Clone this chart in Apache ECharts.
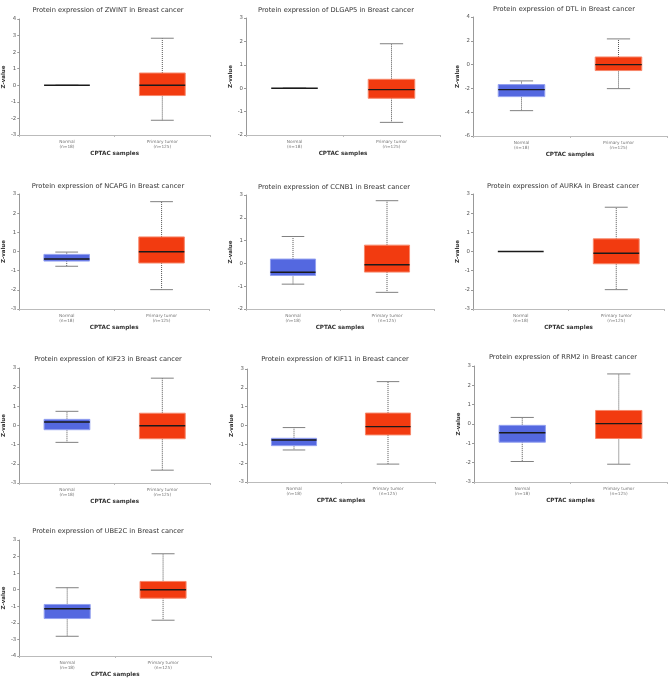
<!DOCTYPE html>
<html>
<head>
<meta charset="utf-8">
<script src="https://cdn.jsdelivr.net/npm/echarts@6/dist/echarts.min.js"></script>
<style>
html,body{margin:0;padding:0;background:#fff;}
#main{width:669px;height:679px;}
</style>
</head>
<body>
<div id="main"></div>
<script>
// ---- data ----
const genes = ['ZWINT','DLGAP5','DTL','NCAPG','CCNB1','AURKA','KIF23','KIF11','RRM2','UBE2C'];
const categories = ['Normal\n(n=18)', 'Primary tumor\n(n=125)'];
// five-number summaries: [lower whisker, Q1, median, Q3, upper whisker]
const normalStats = [
  [0, 0, 0, 0, 0],
  [0, 0, 0, 0, 0],
  [-3.87, -2.69, -2.10, -1.68, -1.37],
  [-0.77, -0.50, -0.39, -0.15, -0.03],
  [-0.91, -0.53, -0.39, 0.19, 1.18],
  [0, 0, 0, 0, 0],
  [-0.88, -0.22, 0.18, 0.32, 0.74],
  [-1.30, -1.07, -0.77, -0.68, -0.11],
  [-1.94, -0.94, -0.45, -0.07, 0.34],
  [-2.81, -1.74, -1.15, -0.89, 0.12]
];
const tumorStats = [
  [-2.11, -0.62, 0.00, 0.74, 2.84],
  [-1.46, -0.43, -0.06, 0.38, 1.90],
  [-2.02, -0.50, 0.00, 0.64, 2.16],
  [-1.99, -0.60, -0.01, 0.76, 2.60],
  [-1.27, -0.38, -0.06, 0.80, 2.75],
  [-1.99, -0.64, -0.09, 0.66, 2.31],
  [-2.33, -0.69, -0.01, 0.64, 2.47],
  [-2.05, -0.50, -0.06, 0.66, 2.33],
  [-2.08, -0.75, 0.02, 0.70, 2.59],
  [-1.84, -0.51, 0.00, 0.50, 2.17]
];
const yMin = [-3, -2, -6, -3, -2, -3, -3, -3, -3, -4];
const yMax = [4, 3, 4, 3, 3, 3, 3, 3, 3, 3];
const yStep = [1, 1, 2, 1, 1, 1, 1, 1, 1, 1];

// ---- layout (pixels) ----
const plots = [
  {l:19,  r:210, t:19,  b:135},
  {l:246, r:440, t:18,  b:135},
  {l:473, r:667, t:17,  b:136},
  {l:18,  r:209, t:194, b:309},
  {l:246, r:434, t:195, b:309},
  {l:473, r:664, t:194, b:309},
  {l:18,  r:210, t:368, b:483},
  {l:247, r:435, t:369, b:482},
  {l:474, r:667, t:366, b:482},
  {l:18,  r:211, t:540, b:656}
];
const titlePos = [
  [103,2],[331,2],[559,1],[103,178],[329,179],[558,178],[103,351],[330,351],[558,349],[103,523]
];

const FONT = 'DejaVu Sans';
const chart = echarts.init(document.getElementById('main'), null, {renderer:'canvas'});

const grids = [], xAxes = [], yAxes = [], series = [], titles = [];
const fills = ['#5468e0', '#f23b10'];
const borders = ['#93a0f0', '#f7876a'];

function renderBox(params, api) {
  const cat = api.value(0);
  const lo = api.value(1), q1 = api.value(2), md = api.value(3), q3 = api.value(4), hi = api.value(5);
  const bw = api.size([1, 0])[0] * 0.48;
  const cw = bw * 0.5;
  const pLo = api.coord([cat, lo]), pQ1 = api.coord([cat, q1]), pMd = api.coord([cat, md]);
  const pQ3 = api.coord([cat, q3]), pHi = api.coord([cat, hi]);
  const x = pMd[0];
  const ci = cat;
  const children = [
    {type:'line', shape:{x1:x, y1:pQ3[1], x2:x, y2:pHi[1]}, style:{stroke:'#555', lineWidth:1, lineDash:[1,1]}},
    {type:'line', shape:{x1:x, y1:pQ1[1], x2:x, y2:pLo[1]}, style:{stroke:'#555', lineWidth:1, lineDash:[1,1]}},
    {type:'line', shape:{x1:x - cw/2, y1:pHi[1], x2:x + cw/2, y2:pHi[1]}, style:{stroke:'#808080', lineWidth:1}},
    {type:'line', shape:{x1:x - cw/2, y1:pLo[1], x2:x + cw/2, y2:pLo[1]}, style:{stroke:'#808080', lineWidth:1}}
  ];
  if (Math.abs(pQ1[1] - pQ3[1]) > 0.5) {
    children.push({type:'rect', shape:{x:x - bw/2, y:pQ3[1], width:bw, height:pQ1[1] - pQ3[1]},
      style:{fill:fills[ci], stroke:borders[ci], lineWidth:1}});
  }
  children.push({type:'line', shape:{x1:x - bw/2, y1:pMd[1], x2:x + bw/2, y2:pMd[1]},
    style:{stroke:'#1a1a1a', lineWidth:1.4}});
  return {type:'group', children};
}

genes.forEach((g, i) => {
  const p = plots[i];
  grids.push({left:p.l, top:p.t, width:p.r - p.l, height:p.b - p.t, containLabel:false});
  titles.push({
    text:'Protein expression of ' + g + ' in Breast cancer',
    left:titlePos[i][0], top:titlePos[i][1], textAlign:'center',
    textStyle:{fontFamily:FONT, fontSize:6.7, fontWeight:'normal', color:'#333'}
  });
  xAxes.push({
    type:'category', gridIndex:i, data:categories,
    name:'CPTAC samples', nameLocation:'middle', nameGap:16,
    nameTextStyle:{fontFamily:FONT, fontSize:5.7, fontWeight:'bold', color:'#333'},
    axisLine:{onZero:false, lineStyle:{color:'#bbb', width:1}},
    axisTick:{show:true, length:2, lineStyle:{color:'#bbb'}},
    axisLabel:{interval:0, fontFamily:FONT, fontSize:4.3, color:'#777', lineHeight:5, margin:4}
  });
  yAxes.push({
    type:'value', gridIndex:i, min:yMin[i], max:yMax[i], interval:yStep[i],
    name:'Z-value', nameLocation:'middle', nameGap:12, nameRotate:90,
    nameTextStyle:{fontFamily:FONT, fontSize:5.5, fontWeight:'bold', color:'#333'},
    axisLine:{show:true, onZero:false, lineStyle:{color:'#999', width:1}},
    axisTick:{show:true, length:2, lineStyle:{color:'#999'}},
    axisLabel:{fontFamily:FONT, fontSize:5.4, color:'#555', margin:3},
    splitLine:{show:false}
  });
  const data = [
    [0].concat(normalStats[i]),
    [1].concat(tumorStats[i])
  ];
  series.push({
    type:'custom', xAxisIndex:i, yAxisIndex:i,
    renderItem:renderBox,
    encode:{x:0, y:[1,2,3,4,5]},
    data:data, silent:true, animation:false
  });
});

chart.setOption({
  backgroundColor:'#fff',
  animation:false,
  title:titles,
  grid:grids,
  xAxis:xAxes,
  yAxis:yAxes,
  series:series
});
</script>
</body>
</html>
